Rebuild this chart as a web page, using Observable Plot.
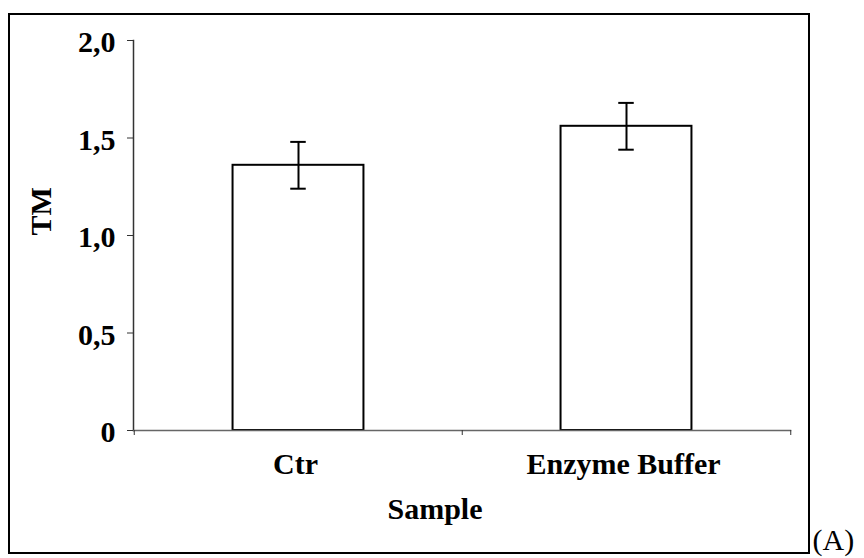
<!DOCTYPE html>
<html>
<head>
<meta charset="utf-8">
<script src="https://cdn.jsdelivr.net/npm/d3@7"></script>
<script src="https://cdn.jsdelivr.net/npm/@observablehq/plot@0.6"></script>
<style>
  html, body { margin: 0; padding: 0; background: #fff; }
  #wrap { position: relative; width: 864px; height: 558px; overflow: hidden; }
  #box { position: absolute; left: 8px; top: 13px; width: 798px; height: 537px; border: 2px solid #000; pointer-events: none; }
</style>
</head>
<body>
<div id="wrap"><div id="box"></div></div>
<script>
// Mean TM per sample with its error (±)
const samples = ["Ctr", "Enzyme Buffer"];
const means = [1.36, 1.56];
const errors = [0.12, 0.12];

// Value axis ticks and their comma-decimal labels
const yTicks = [0, 0.5, 1.0, 1.5, 2.0];
const yTickLabels = ["0", "0,5", "1,0", "1,5", "2,0"];

const rows = samples.map((s, i) => ({sample: s, mean: means[i], lo: means[i] - errors[i], hi: means[i] + errors[i]}));

const serif = "'Liberation Serif', 'Times New Roman', serif";
const fs = 30;
const W = 864, H = 558;
const mL = 133, mR = 74, mT = 40, mB = 128;
const band = (W - mL - mR) / samples.length;

const chart = Plot.plot({
  width: W,
  height: H,
  marginLeft: mL,
  marginRight: mR,
  marginTop: mT,
  marginBottom: mB,
  style: {fontFamily: serif, fontSize: fs + "px", fontWeight: "bold", color: "#000", background: "transparent", overflow: "visible"},
  x: {type: "band", domain: samples, padding: 0},
  y: {domain: [0, 2]},
  marks: [
    // bars
    Plot.barY(rows, {x: "sample", y: "mean", fill: "#fff", stroke: "#000", strokeWidth: 2, insetLeft: band * 0.3, insetRight: band * 0.3}),
    // error bars
    Plot.ruleX(rows, {x: "sample", y1: "lo", y2: "hi", stroke: "#000", strokeWidth: 2}),
    Plot.tickY(rows, {x: "sample", y: "lo", stroke: "#000", strokeWidth: 2, insetLeft: band / 2 - 8, insetRight: band / 2 - 8}),
    Plot.tickY(rows, {x: "sample", y: "hi", stroke: "#000", strokeWidth: 2, insetLeft: band / 2 - 8, insetRight: band / 2 - 8}),
    // axis lines
    Plot.frame({anchor: "left", stroke: "#333", strokeWidth: 1.5}),
    Plot.frame({anchor: "bottom", stroke: "#666", strokeWidth: 1.5}),
    // value axis: tick marks, then labels
    Plot.axisY({ticks: yTicks, tickSize: 6, text: null, stroke: "#333", label: null}),
    Plot.axisY({ticks: yTicks, tickFormat: (d) => yTickLabels[yTicks.indexOf(d)], tickSize: 0, tickPadding: 18, label: null, fontSize: fs, fontWeight: "bold", dy: 2}),
    // category axis: labels at centres, ticks at category boundaries
    Plot.axisX({tickSize: 0, tickPadding: 22, label: null, fontSize: fs, fontWeight: "bold", dx: -3}),
    Plot.axisX({tickSize: 5, text: null, label: null, dx: -band / 2, stroke: "#333"}),
    Plot.axisX({ticks: [samples[samples.length - 1]], tickSize: 5, text: null, label: null, dx: band / 2, stroke: "#333"}),
    // axis titles
    Plot.text(["Sample"], {frameAnchor: "bottom", text: d => d, dy: 88, dx: -27, lineAnchor: "bottom", fontSize: fs, fontWeight: "bold"}),
    Plot.text(["TM"], {frameAnchor: "left", text: d => d, dx: -92, rotate: -90, lineAnchor: "middle", fontSize: fs, fontWeight: "bold"}),
    // panel tag
    Plot.text(["(A)"], {frameAnchor: "bottom-right", text: d => d, dx: 22, dy: 119, textAnchor: "start", lineAnchor: "bottom", fontSize: 30, fontWeight: "normal"})
  ]
});

document.getElementById("wrap").prepend(chart);
</script>
</body>
</html>
